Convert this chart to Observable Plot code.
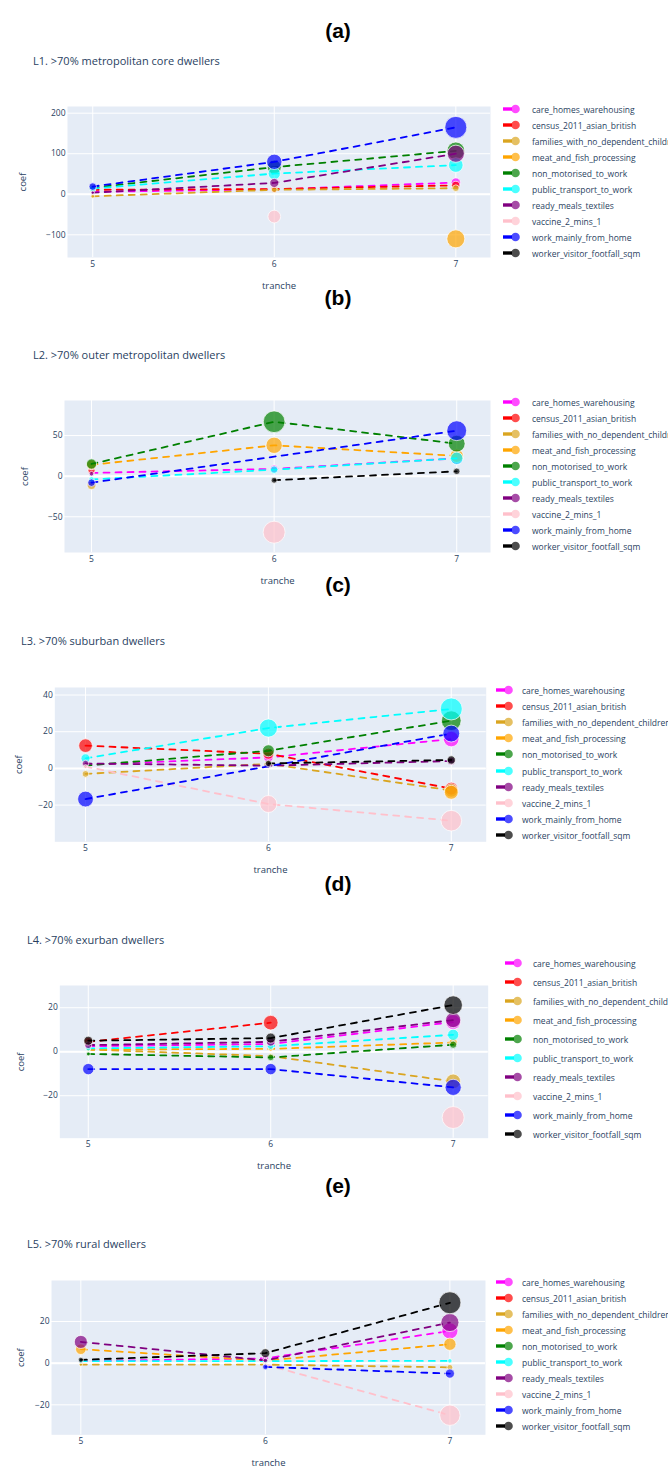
<!DOCTYPE html>
<html><head><meta charset="utf-8">
<script src="https://cdn.jsdelivr.net/npm/d3@7"></script>
<script src="https://cdn.jsdelivr.net/npm/@observablehq/plot@0.6"></script>
<style>
html,body{margin:0;padding:0;overflow:hidden;background:#fff;}
#root{position:relative;width:668px;height:1470px;overflow:hidden;font-family:"Open Sans",sans-serif;}
.lab{position:absolute;font-family:"Liberation Sans",Arial,sans-serif;font-weight:bold;font-size:21px;color:#000;transform:translate(-50%,-50%);white-space:nowrap;}
.ttl{position:absolute;font-size:11px;color:#2a3f5f;white-space:nowrap;transform:translateY(-50%);}
.leg{position:absolute;}
.leg .row{position:absolute;left:0;height:12px;white-space:nowrap;font-size:8.5px;color:#2a3f5f;}
.leg .row svg{position:absolute;left:0;top:0;}
.leg .row span{position:absolute;top:50%;transform:translateY(-50%);}
.plot{position:absolute;left:0;}
</style></head><body><div id="root"></div>
<script>
// ---------------- data ----------------
const tranches = [5, 6, 7];
const variables = [
  "care_homes_warehousing",
  "census_2011_asian_british",
  "families_with_no_dependent_children",
  "meat_and_fish_processing",
  "non_motorised_to_work",
  "public_transport_to_work",
  "ready_meals_textiles",
  "vaccine_2_mins_1",
  "work_mainly_from_home",
  "worker_visitor_footfall_sqm"
];
const panelLetters = ["(a)", "(b)", "(c)", "(d)", "(e)"];
const panelTitles = [
  "L1. >70% metropolitan core dwellers",
  "L2. >70% outer metropolitan dwellers",
  "L3. >70% suburban dwellers",
  "L4. >70% exurban dwellers",
  "L5. >70% rural dwellers"
];
const yTickValues = [[-100, 0, 100, 200], [-50, 0, 50], [-20, 0, 20, 40], [-20, 0, 20], [-20, 0, 20]];
// coef by variable (rows, in the order above) and tranche 5, 6, 7 (null = absent)
const coefL1 = [
  [6, 12, 29], [11, 13, 22], [-5, 11, 15], [null, null, -110], [16, 67, 107],
  [14, 51, 72], [4, 28, 100], [null, -55, null], [19, 80, 165], [null, null, null]
];
const coefL2 = [
  [4, 9, 22], [7, null, null], [-11, null, null], [14, 38, 25], [15, 67, 40],
  [-4, 8, 22], [3, null, null], [null, -69, null], [-8, null, 56], [null, -5, 6]
];
const coefL3 = [
  [2, 6, 16], [12.4, 8, -11], [-3, 2.5, -12], [null, null, -13], [1.5, 9.6, 26],
  [5.5, 22, 32.4], [2.7, 1.5, 4], [1, -19.4, -28.5], [-16.7, null, 19], [null, 2.7, 4.6]
];
const coefL4 = [
  [2.5, 3.5, 13.5], [4.5, 13.2, null], [1, -2, -13.5], [1, 1.3, 4.2], [-1, -2.6, 3.2],
  [1.5, 2.5, 7.7], [3, 4.5, 14.4], [null, null, -29.9], [-7.9, -7.9, -16.2], [5, 6.2, 21.2]
];
const coefL5 = [
  [1, 2.3, 15.5], [null, null, null], [-0.7, -0.7, -2], [6.7, 1.2, 9.1], [null, null, null],
  [1, 1, 1.1], [10.2, 1.3, 19.5], [null, -0.7, -25], [null, -1.8, -5], [1.6, 4.8, 29]
];
const panelCoefs = [coefL1, coefL2, coefL3, coefL4, coefL5];

// ---------------- styles / layout ----------------
const colors = ["#FF00FF", "#FF0000", "#DAA520", "#FFA500", "#008000", "#00FFFF", "#800080", "#FFC0CB", "#0000FF", "#000000"];
const layout = [
  {L: 67, R: 490, T: 106, B: 257, x: [4.861, 7.191], y: [-156, 216.5], labY: 31, tX: 33, tY: 60, legX: 503, textDX: 29, legY: 109, legDY: 16, coefX: 24},
  {L: 64, R: 490, T: 400, B: 552, x: [4.852, 7.185], y: [-94, 93.2], labY: 298, tX: 33, tY: 354, legX: 503, textDX: 29, legY: 402, legDY: 16, coefX: 26},
  {L: 54.3, R: 485.7, T: 686.7, B: 841, x: [4.832, 7.191], y: [-40, 44.1], labY: 585, tX: 21, tY: 640, legX: 496, textDX: 26, legY: 690, legDY: 16.1, coefX: 20},
  {L: 59.3, R: 487.7, T: 985, B: 1137.7, x: [4.844, 7.192], y: [-39.3, 30.1], labY: 884, tX: 27, tY: 939, legX: 505, textDX: 28, legY: 963, legDY: 19, coefX: 22},
  {L: 51, R: 485, T: 1280, B: 1434.3, x: [4.841, 7.193], y: [-34.4, 39.7], labY: 1186, tX: 27, tY: 1243, legX: 496, textDX: 26, legY: 1282, legDY: 16, coefX: 22}
];

const root = document.getElementById("root");
const W = 668, padTop = 20, padBottom = 45;

layout.forEach((p, k) => {
  const coefs = panelCoefs[k];
  const rows = [];
  variables.forEach((v, i) => tranches.forEach((t, j) => {
    const c = coefs[i][j];
    if (c != null) rows.push({variable: v, tranche: t, coef: c, size: Math.abs(c)});
  }));
  const maxAbs = d3.max(rows, d => d.size);

  const marks = [
    Plot.frame({fill: "#E5ECF6", stroke: null}),
    Plot.gridX({ticks: tranches, stroke: "white", strokeOpacity: 1, strokeWidth: 1}),
    Plot.gridY({ticks: yTickValues[k], stroke: "white", strokeOpacity: 1, strokeWidth: 1}),
    Plot.ruleY([0], {stroke: "white", strokeWidth: 2}),
    Plot.axisX({ticks: tranches, tickFormat: d3.format("d"), tickSize: 0, tickPadding: 3, fontSize: 8.5, label: null}),
    Plot.axisY({ticks: yTickValues[k], tickFormat: d3.format("d"), tickSize: 0, tickPadding: 2, fontSize: 8.5, label: null}),
    Plot.axisX({ticks: [], tickSize: 0, fontSize: 9.5, label: "tranche", labelAnchor: "center", labelOffset: 31, labelArrow: "none"}),
    Plot.axisY({ticks: [], tickSize: 0, fontSize: 9.5, label: "coef", labelAnchor: "center", labelOffset: p.L - p.coefX + 5, labelArrow: "none"})
  ];
  variables.forEach(v => {
    const d = rows.filter(r => r.variable === v);
    if (!d.length) return;
    marks.push(Plot.line(d, {x: "tranche", y: "coef", stroke: "variable", strokeWidth: 1.8, strokeDasharray: "6,6"}));
    marks.push(Plot.dot(d, {x: "tranche", y: "coef", r: "size", fill: "variable", fillOpacity: 0.7, stroke: "white", strokeWidth: 0.7}));
  });

  const svg = Plot.plot({
    width: W,
    height: padTop + (p.B - p.T) + padBottom,
    marginLeft: p.L,
    marginRight: W - p.R,
    marginTop: padTop,
    marginBottom: padBottom,
    style: {fontFamily: "'Open Sans', sans-serif", color: "#2a3f5f", background: "transparent", overflow: "visible"},
    x: {domain: p.x},
    y: {domain: p.y},
    r: {domain: [0, maxAbs], range: [0, 11]},
    color: {domain: variables, range: colors},
    marks
  });
  svg.classList.add("plot");
  svg.style.top = (p.T - padTop) + "px";
  root.appendChild(svg);

  const lab = document.createElement("div");
  lab.className = "lab";
  lab.textContent = panelLetters[k];
  lab.style.left = "338px";
  lab.style.top = p.labY + "px";
  root.appendChild(lab);

  const ttl = document.createElement("div");
  ttl.className = "ttl";
  ttl.textContent = panelTitles[k];
  ttl.style.left = p.tX + "px";
  ttl.style.top = p.tY + "px";
  root.appendChild(ttl);

  const leg = document.createElement("div");
  leg.className = "leg";
  leg.style.left = p.legX + "px";
  leg.style.top = (p.legY - 6) + "px";
  variables.forEach((v, i) => {
    const row = document.createElement("div");
    row.className = "row";
    row.style.top = (i * p.legDY) + "px";
    row.innerHTML = `<svg width="22" height="12"><rect x="0" y="4.3" width="9" height="3.4" fill="${colors[i]}"></rect><circle cx="12.5" cy="6" r="4.3" fill="${colors[i]}" fill-opacity="0.7"></circle></svg><span style="left:${p.textDX}px">${v}</span>`;
    leg.appendChild(row);
  });
  root.appendChild(leg);
});
</script></body></html>
